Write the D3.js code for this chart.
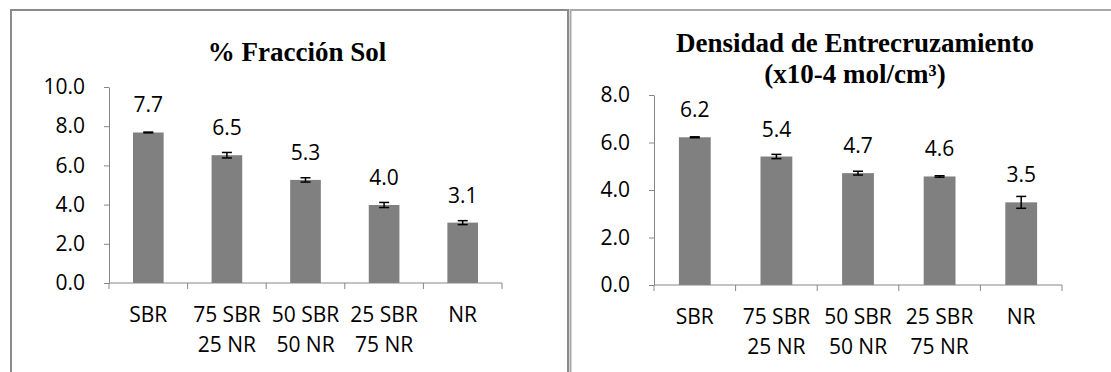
<!DOCTYPE html>
<html>
<head>
<meta charset="utf-8">
<script src="https://cdn.jsdelivr.net/npm/d3@7"></script>
<style>
  body { margin: 0; background: #fff; }
  svg { display: block; }
</style>
</head>
<body>
<script>
// Categories (two lines under each bar)
var categories = [
  ['SBR'],
  ['75 SBR', '25 NR'],
  ['50 SBR', '50 NR'],
  ['25 SBR', '75 NR'],
  ['NR']
];

// % Fraccion Sol
var solValues = [7.68, 6.52, 5.26, 3.98, 3.08];
var solErrors = [0.02, 0.14, 0.11, 0.13, 0.10];
var solTicks = [0, 2, 4, 6, 8, 10];

// Densidad de entrecruzamiento
var densValues = [6.22, 5.41, 4.71, 4.57, 3.48];
var densErrors = [0.02, 0.09, 0.08, 0.03, 0.25];
var densTicks = [0, 2, 4, 6, 8];

var width = 1111, height = 372;
var frameColor = '#8a8a8a';
var axisColor = '#868686';
var barColor = '#808080';
var sansFont = '"Open Sans", sans-serif';
var serifFont = '"Liberation Serif", "Times New Roman", serif';
var labelSize = '21px';

var svg = d3.select('body')
  .append('svg')
  .attr('width', width)
  .attr('height', height);

svg.append('rect')
  .attr('width', width)
  .attr('height', height)
  .attr('fill', '#fff');

// Panel frames (left border, top border, doubled divider)
var drawFrames = function() {
  let g = svg.append('g').attr('stroke', frameColor).attr('stroke-width', 2).attr('fill', 'none');
  g.append('path').attr('d', 'M 11 372 L 11 10 L 568 10 L 568 372');
  g.append('path').attr('d', 'M 570.5 372 L 570.5 10 L 1111 10').attr('stroke', '#a8a8a8');
}

var drawChart = function(opt) {
  let x = d3.scaleBand()
    .domain(d3.range(categories.length))
    .range([opt.left, opt.right])
    .paddingInner(0.61)
    .paddingOuter(0.305);

  let y = d3.scaleLinear()
    .domain([0, d3.max(opt.ticks)])
    .range([opt.bottom, opt.top]);

  let g = svg.append('g');

  // Title
  let title = g.append('text')
    .attr('x', opt.titleX)
    .attr('y', opt.titleY)
    .attr('text-anchor', 'middle')
    .style('font-family', serifFont)
    .style('font-weight', 'bold')
    .style('font-size', '27px');
  opt.title.forEach((line, i) => {
    title.append('tspan')
      .attr('x', opt.titleX)
      .attr('dy', i == 0 ? 0 : 31)
      .text(line);
  });

  // Y axis
  let yAxis = g.append('g')
    .attr('transform', 'translate(' + opt.left + ',0)')
    .call(d3.axisLeft(y).tickValues(opt.ticks).tickFormat(d3.format('.1f')).tickSize(5).tickPadding(19).tickSizeOuter(0));
  yAxis.select('.domain').attr('stroke', axisColor);
  yAxis.selectAll('.tick line').attr('stroke', axisColor);
  yAxis.selectAll('.tick text')
    .attr('fill', '#000')
    .style('font-family', sansFont)
    .style('font-size', labelSize);

  // Bars
  g.selectAll('rect.bar')
    .data(opt.values)
    .enter()
    .append('rect')
    .attr('class', 'bar')
    .attr('x', (d, i) => x(i))
    .attr('y', d => y(d))
    .attr('width', x.bandwidth())
    .attr('height', d => y(0) - y(d))
    .attr('fill', barColor);

  // Error bars
  let cap = 5;
  let err = g.selectAll('g.err')
    .data(opt.values)
    .enter()
    .append('g')
    .attr('class', 'err')
    .attr('stroke', '#000')
    .attr('stroke-width', 1.5);
  err.append('line')
    .attr('x1', (d, i) => x(i) + x.bandwidth() / 2)
    .attr('x2', (d, i) => x(i) + x.bandwidth() / 2)
    .attr('y1', (d, i) => y(d + opt.errors[i]))
    .attr('y2', (d, i) => y(d - opt.errors[i]));
  [1, -1].forEach(s => {
    err.append('line')
      .attr('x1', (d, i) => x(i) + x.bandwidth() / 2 - cap)
      .attr('x2', (d, i) => x(i) + x.bandwidth() / 2 + cap)
      .attr('y1', (d, i) => y(d + s * opt.errors[i]))
      .attr('y2', (d, i) => y(d + s * opt.errors[i]));
  });

  // Data labels
  g.selectAll('text.lbl')
    .data(opt.values)
    .enter()
    .append('text')
    .attr('class', 'lbl')
    .attr('x', (d, i) => x(i) + x.bandwidth() / 2)
    .attr('y', d => y(d) - 20)
    .attr('text-anchor', 'middle')
    .style('font-family', sansFont)
    .style('font-size', labelSize)
    .text(d => d3.format('.1f')(d));

  // X axis line and category separators
  let step = x.step();
  g.append('line')
    .attr('x1', opt.left).attr('x2', opt.right)
    .attr('y1', y(0)).attr('y2', y(0))
    .attr('stroke', axisColor);
  g.selectAll('line.sep')
    .data(d3.range(categories.length + 1))
    .enter()
    .append('line')
    .attr('class', 'sep')
    .attr('x1', i => opt.left + i * step)
    .attr('x2', i => opt.left + i * step)
    .attr('y1', y(0))
    .attr('y2', y(0) + 6)
    .attr('stroke', axisColor);

  // Category labels
  let cat = g.selectAll('text.cat')
    .data(categories)
    .enter()
    .append('text')
    .attr('class', 'cat')
    .attr('text-anchor', 'middle')
    .attr('y', y(0) + 39)
    .style('font-family', sansFont)
    .style('font-size', labelSize);
  cat.each(function(lines, i) {
    let cx = x(i) + x.bandwidth() / 2;
    lines.forEach((line, j) => {
      d3.select(this).append('tspan')
        .attr('x', cx)
        .attr('dy', j == 0 ? 0 : 30)
        .text(line);
    });
  });
}

drawFrames();

drawChart({
  left: 109, right: 502, top: 87, bottom: 283,
  ticks: solTicks, values: solValues, errors: solErrors,
  title: ['% Fracción Sol'], titleX: 297, titleY: 61
});

drawChart({
  left: 654, right: 1062, top: 95, bottom: 285,
  ticks: densTicks, values: densValues, errors: densErrors,
  title: ['Densidad de Entrecruzamiento', '(x10-4 mol/cm³)'], titleX: 855, titleY: 52
});
</script>
</body>
</html>
